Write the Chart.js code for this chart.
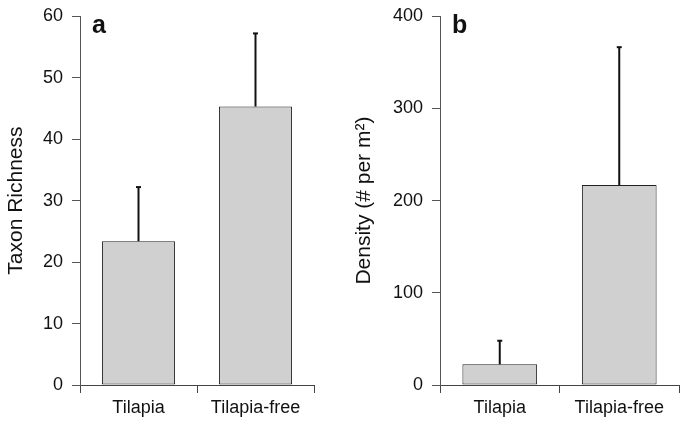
<!DOCTYPE html>
<html>
<head>
<meta charset="utf-8">
<script src="https://cdn.jsdelivr.net/npm/chart.js@4/dist/chart.umd.min.js"></script>
<style>
  html, body { margin: 0; padding: 0; background: #fff; }
  #wrap { position: relative; width: 680px; height: 421px; }
  .c { position: absolute; top: 0; height: 421px; }
  #ca { left: 0; width: 340px; }
  #cb { left: 340px; width: 340px; }
</style>
</head>
<body>
<div id="wrap">
  <div class="c" id="ca"><canvas id="chartA" width="340" height="421"></canvas></div>
  <div class="c" id="cb"><canvas id="chartB" width="340" height="421"></canvas></div>
</div>
<script>
// ---- Data ----
const categories = ['Tilapia', 'Tilapia-free'];
const richnessMean = [23.4, 45.3];
const richnessErr = [8.8, 11.9];
const densityMean = [22.4, 216.8];
const densityErr = [25.6, 149.6];
const richnessTicks = [0, 10, 20, 30, 40, 50, 60];
const densityTicks = [0, 100, 200, 300, 400];
const panelLabels = ['a', 'b'];
const yTitles = ['Taxon Richness', 'Density (# per m\u00B2)'];

const FONT = "'Liberation Sans', Arial, Helvetica, sans-serif";

const errorBarPlugin = {
  id: 'errorBars',
  afterDatasetsDraw(chart, args, opts) {
    const ctx = chart.ctx;
    const meta = chart.getDatasetMeta(0);
    const ys = chart.scales.y;
    ctx.save();
    ctx.strokeStyle = '#111';
    ctx.lineWidth = 2;
    meta.data.forEach((bar, i) => {
      const v = chart.data.datasets[0].data[i];
      const e = opts.errors[i];
      const x = bar.x;
      const y0 = ys.getPixelForValue(v);
      const y1 = ys.getPixelForValue(v + e);
      ctx.beginPath();
      ctx.moveTo(x, y0);
      ctx.lineTo(x, y1);
      ctx.stroke();
      ctx.beginPath();
      ctx.moveTo(x - 2.5, y1);
      ctx.lineTo(x + 2.5, y1);
      ctx.stroke();
    });
    ctx.restore();
  }
};

const panelLabelPlugin = {
  id: 'panelLabel',
  afterDraw(chart, args, opts) {
    const ctx = chart.ctx;
    ctx.save();
    ctx.font = 'bold 25px ' + FONT;
    ctx.fillStyle = '#111';
    ctx.textBaseline = 'alphabetic';
    ctx.textAlign = 'left';
    ctx.fillText(opts.text, chart.chartArea.left + 12, 33);
    ctx.restore();
  }
};

function makeChart(id, values, errors, ticks, title, label, yWidth, padRight, titlePad) {
  const maxV = ticks[ticks.length - 1];
  const step = ticks[1] - ticks[0];
  return new Chart(document.getElementById(id), {
    type: 'bar',
    data: {
      labels: categories,
      datasets: [{
        data: values,
        backgroundColor: '#d0d0d0',
        borderColor: '#222',
        borderWidth: 1,
        borderSkipped: false,
        barPercentage: 0.625,
        categoryPercentage: 1.0
      }]
    },
    plugins: [errorBarPlugin, panelLabelPlugin],
    options: {
      responsive: false,
      animation: false,
      devicePixelRatio: 1,
      layout: { padding: { top: 16, right: padRight, bottom: 0, left: 0 } },
      plugins: {
        legend: { display: false },
        tooltip: { enabled: false },
        errorBars: { errors: errors },
        panelLabel: { text: label }
      },
      scales: {
        x: {
          grid: {
            display: true,
            offset: true,
            drawOnChartArea: false,
            drawTicks: true,
            tickLength: 8,
            color: '#444',
            lineWidth: 1
          },
          border: { display: true, color: '#444', width: 1 },
          ticks: {
            color: '#111',
            font: { family: FONT, size: 18 },
            padding: 4,
            maxRotation: 0
          },
          afterFit(scale) { scale.height = 36; }
        },
        y: {
          min: 0,
          max: maxV,
          ticks: {
            stepSize: step,
            color: '#111',
            font: { family: FONT, size: 18, lineHeight: 0.8 },
            padding: 9
          },
          grid: {
            display: true,
            drawOnChartArea: false,
            drawTicks: true,
            tickLength: 8,
            color: '#555',
            lineWidth: 1
          },
          border: { display: true, color: '#555', width: 1 },
          title: {
            display: true,
            text: title,
            color: '#111',
            font: { family: FONT, size: 21 },
            padding: { top: titlePad, bottom: 0 }
          },
          afterFit(scale) { scale.width = yWidth; }
        }
      }
    }
  });
}

makeChart('chartA', richnessMean, richnessErr, richnessTicks, yTitles[0], panelLabels[0], 80, 26, 4);
makeChart('chartB', densityMean, densityErr, densityTicks, yTitles[1], panelLabels[1], 100, 1, 12);
</script>
</body>
</html>
